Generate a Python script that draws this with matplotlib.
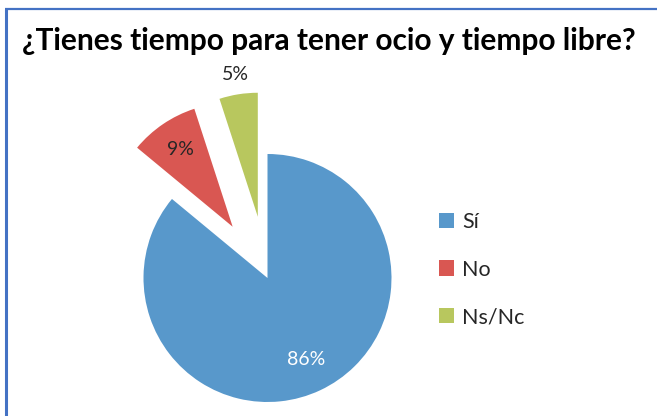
import matplotlib.pyplot as plt
from matplotlib.lines import Line2D
import numpy as np

plt.rcParams['font.family'] = ['Lato', 'DejaVu Sans']

categorias = ['Sí', 'No', 'Ns/Nc']
valores = [86, 9, 5]
etiquetas = ['86%', '9%', '5%']
colores = ['#5898CB', '#D95752', '#B8C75E']

fig = plt.figure(figsize=(6.57, 4.16), dpi=100)
ax = fig.add_axes([0, 0, 1, 1])

# pie en coordenadas de pixel (explode en unidades de datos)
wedges, _ = ax.pie(valores, colors=colores, startangle=90, counterclock=False,
                   explode=[0, 62, 62], center=(267.5, 138), radius=124,
                   wedgeprops=dict(linewidth=0))
ax.set_xlim(0, 657)
ax.set_ylim(0, 416)
ax.set_aspect('equal')
ax.axis('off')

# etiquetas de porcentaje
dist = [0.73, 0.75, 1.16]
colores_txt = ['white', '#262626', '#262626']
for w, txt, d, c in zip(wedges, etiquetas, dist, colores_txt):
    ang = np.deg2rad((w.theta1 + w.theta2) / 2)
    cx, cy = w.center
    ax.text(cx + d * w.r * np.cos(ang), cy + d * w.r * np.sin(ang), txt,
            ha='center', va='center', fontsize=14, color=c)

ax.legend(wedges, categorias, loc='upper left', bbox_to_anchor=(439 / 657, 1 - 212 / 416),
          frameon=False, fontsize=15.5, handlelength=0.7, handleheight=0.7,
          labelspacing=1.28, handletextpad=0.37, borderpad=0, borderaxespad=0,
          labelcolor='#262626')

fig.text(0.5, 1 - 41 / 416, '¿Tienes tiempo para tener ocio y tiempo libre?',
         ha='center', va='center', fontsize=21.5, fontweight='bold', color='black')

# borde del gráfico
fig.add_artist(Line2D([6 / 657, 6 / 657], [0, 1 - 8.5 / 416], color='#4472C4', lw=2.2,
                      transform=fig.transFigure, solid_capstyle='butt'))
fig.add_artist(Line2D([5 / 657, 1], [1 - 8.5 / 416, 1 - 8.5 / 416], color='#4472C4', lw=1.6,
                      transform=fig.transFigure, solid_capstyle='butt'))

fig.savefig('out.png', dpi=100)
